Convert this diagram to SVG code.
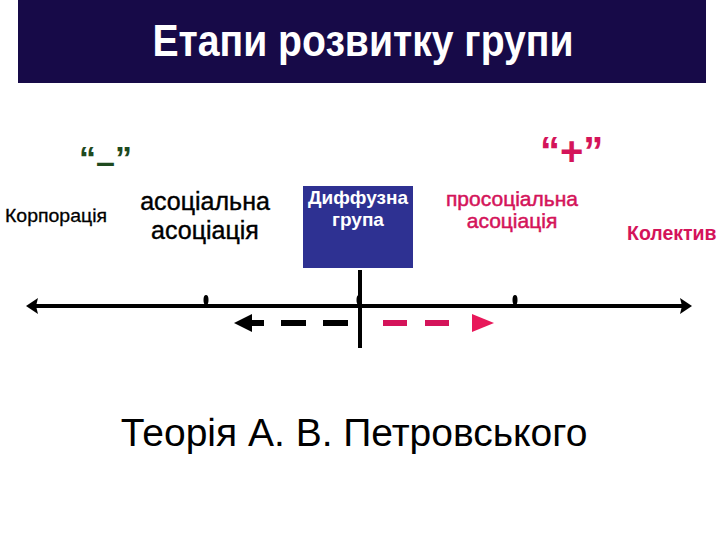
<svg xmlns="http://www.w3.org/2000/svg" width="720" height="540" viewBox="0 0 720 540">
<style>
.t{font-family:"Liberation Sans",Arial,sans-serif}
.b{font-weight:bold}
.pink{fill:#d4145a}
</style>
<rect width="720" height="540" fill="#fff"/>
<g id="title">
<rect x="18" y="0" width="688" height="83" fill="#170a48"/>
<text class="t b" transform="translate(363,56) scale(0.87,1)" x="0" y="0" font-size="45" fill="#fff" text-anchor="middle">Етапи розвитку групи</text>
</g>
<g id="minus"><text class="t b" x="79" y="170" font-size="34" fill="#1f4a1f">“<tspan dy="3">–</tspan><tspan dy="-3">”</tspan></text></g>
<g id="plus"><text class="t b pink" x="540" y="165" font-size="40">“+”</text></g>
<g id="korporatsiya"><text class="t" x="5" y="222" font-size="18.5" fill="#000" textLength="102" lengthAdjust="spacingAndGlyphs" stroke="#000" stroke-width="0.3">Корпорація</text></g>
<g id="asotsialna"><text class="t" font-size="25" fill="#000" text-anchor="middle" stroke="#000" stroke-width="0.4"><tspan x="205" y="210">асоціальна</tspan><tspan x="205" y="239">асоціація</tspan></text></g>
<g id="dyfuzna">
<rect x="303" y="186" width="110" height="82" fill="#2e3192"/>
<text class="t b" font-size="19" fill="#fff" text-anchor="middle"><tspan x="358" y="204">Диффузна</tspan><tspan x="358" y="226">група</tspan></text>
</g>
<g id="prosotsialna"><text class="t pink" font-size="21" text-anchor="middle" stroke="#d4145a" stroke-width="0.5"><tspan x="512" y="206">просоціальна</tspan><tspan x="512" y="228">асоціація</tspan></text></g>
<g id="kolektyv"><text class="t b pink" x="627" y="240" font-size="19.5">Колектив</text></g>
<g id="connectors">
<line x1="34" y1="306" x2="684" y2="306" stroke="#000" stroke-width="4"/>
<path d="M26,306 L38,298 L36,306 L38,314 Z" fill="#000"/>
<path d="M692,306 L680,298 L682,306 L680,314 Z" fill="#000"/>
<ellipse cx="206" cy="300" rx="2.5" ry="5" fill="#000"/>
<ellipse cx="359" cy="300" rx="2.5" ry="5" fill="#000"/>
<ellipse cx="515" cy="300" rx="2.5" ry="5" fill="#000"/>
<line x1="360" y1="270" x2="360" y2="348" stroke="#000" stroke-width="4"/>
<line x1="348" y1="323" x2="252" y2="323" stroke="#000" stroke-width="6" stroke-dasharray="25,17"/>
<path d="M234,323 L252,314 L252,332 Z" fill="#000"/>
<line x1="383" y1="323" x2="466" y2="323" stroke="#d4145a" stroke-width="6" stroke-dasharray="24,18"/>
<path d="M494,323 L472,314 L472,332 Z" fill="#e8185a"/>
</g>
<g id="teoriya"><text class="t" x="354" y="446" font-size="39" text-anchor="middle" fill="#000">Теорія А. В. Петровського</text></g>
</svg>
